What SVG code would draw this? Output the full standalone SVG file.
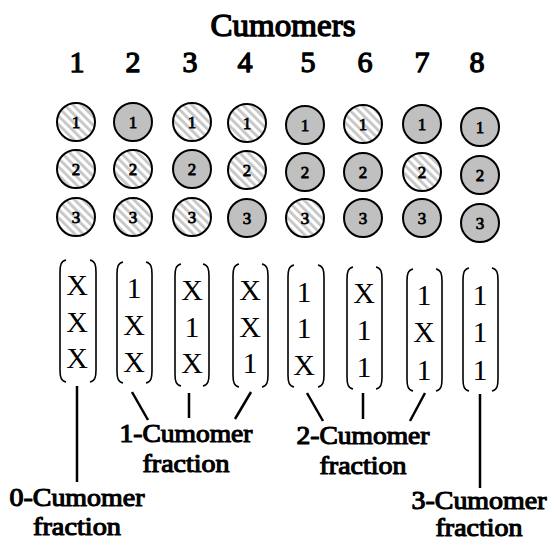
<svg xmlns="http://www.w3.org/2000/svg" width="550" height="542" viewBox="0 0 550 542">
<defs>
<pattern id="hatch" patternUnits="userSpaceOnUse" width="6" height="6" patternTransform="rotate(-45)">
<rect width="6" height="6" fill="#ffffff"/>
<rect width="2.8" height="6" fill="#c6c6c6"/>
</pattern>
</defs>
<style>
text{font-family:'Liberation Serif','Times New Roman',serif;fill:#000;font-weight:normal}
.title{font-size:31px;text-anchor:middle;stroke:#000;stroke-width:1.3;stroke-linejoin:round}
.num{font-size:30px;text-anchor:middle;stroke:#000;stroke-width:1.3;stroke-linejoin:round}
.cl{font-size:17px;text-anchor:middle;stroke:#000;stroke-width:0.8;stroke-linejoin:round}
.v{font-size:30px;text-anchor:middle}
.lab{font-size:25px;text-anchor:middle;stroke:#000;stroke-width:1.1;stroke-linejoin:round}
.h{fill:url(#hatch);stroke:#000;stroke-width:2}
.s{fill:#c0c0c0;stroke:#000;stroke-width:2}
.br{fill:none;stroke:#000;stroke-width:1.6}
.con{stroke:#000;stroke-width:2.5;fill:none}
</style>
<rect width="550" height="542" fill="#fff"/>
<g id="header">
<text class="title" x="283" y="36" textLength="145" lengthAdjust="spacingAndGlyphs">Cumomers</text>
<text class="num" x="77" y="72">1</text>
<text class="num" x="133" y="72">2</text>
<text class="num" x="190" y="72">3</text>
<text class="num" x="245" y="72">4</text>
<text class="num" x="308" y="72">5</text>
<text class="num" x="365" y="72">6</text>
<text class="num" x="422" y="72">7</text>
<text class="num" x="477" y="72">8</text>
</g>
<g id="cumomer1">
<circle class="h" cx="76" cy="122" r="19"/><text class="cl" x="76" y="128">1</text>
<circle class="h" cx="76" cy="169" r="19"/><text class="cl" x="76" y="175">2</text>
<circle class="h" cx="76" cy="217" r="19"/><text class="cl" x="76" y="223">3</text>
<path class="br" d="M66 260 C61 261 60 265 60 272 V370 C60 377 61 381 66 382"/>
<path class="br" d="M90 260 C95 261 96 265 96 272 V370 C96 377 95 381 90 382"/>
<text class="v" x="77" y="295">X</text><text class="v" x="77" y="332">X</text><text class="v" x="77" y="368">X</text>
</g>
<g id="cumomer2">
<circle class="s" cx="133" cy="122" r="19"/><text class="cl" x="133" y="128">1</text>
<circle class="h" cx="133" cy="169" r="19"/><text class="cl" x="133" y="175">2</text>
<circle class="h" cx="133" cy="217" r="19"/><text class="cl" x="133" y="223">3</text>
<path class="br" d="M123 262 C118 263 117 267 117 274 V371 C117 378 118 382 123 383"/>
<path class="br" d="M146 262 C151 263 152 267 152 274 V371 C152 378 151 382 146 383"/>
<text class="v" x="134" y="298">1</text><text class="v" x="134" y="335">X</text><text class="v" x="134" y="372">X</text>
</g>
<g id="cumomer3">
<circle class="h" cx="192" cy="122" r="19"/><text class="cl" x="192" y="128">1</text>
<circle class="s" cx="192" cy="169" r="19"/><text class="cl" x="192" y="175">2</text>
<circle class="h" cx="192" cy="217" r="19"/><text class="cl" x="192" y="223">3</text>
<path class="br" d="M181 264 C176 265 175 269 175 276 V374 C175 381 176 385 181 386"/>
<path class="br" d="M203 264 C208 265 209 269 209 276 V374 C209 381 208 385 203 386"/>
<text class="v" x="192" y="300">X</text><text class="v" x="192" y="337">1</text><text class="v" x="192" y="373">X</text>
</g>
<g id="cumomer4">
<circle class="h" cx="247" cy="123" r="19"/><text class="cl" x="247" y="129">1</text>
<circle class="h" cx="247" cy="170" r="19"/><text class="cl" x="247" y="176">2</text>
<circle class="s" cx="247" cy="218" r="19"/><text class="cl" x="247" y="224">3</text>
<path class="br" d="M239 264 C234 265 233 269 233 276 V375 C233 382 234 386 239 387"/>
<path class="br" d="M262 264 C267 265 268 269 268 276 V375 C268 382 267 386 262 387"/>
<text class="v" x="250" y="300">X</text><text class="v" x="250" y="337">X</text><text class="v" x="250" y="373">1</text>
</g>
<g id="cumomer5">
<circle class="s" cx="305" cy="125" r="19"/><text class="cl" x="305" y="131">1</text>
<circle class="s" cx="305" cy="172" r="19"/><text class="cl" x="305" y="178">2</text>
<circle class="h" cx="305" cy="218" r="19"/><text class="cl" x="305" y="224">3</text>
<path class="br" d="M294 265 C289 266 288 270 288 277 V375 C288 382 289 386 294 387"/>
<path class="br" d="M318 265 C323 266 324 270 324 277 V375 C324 382 323 386 318 387"/>
<text class="v" x="304" y="302">1</text><text class="v" x="304" y="338">1</text><text class="v" x="304" y="375">X</text>
</g>
<g id="cumomer6">
<circle class="h" cx="363" cy="124" r="19"/><text class="cl" x="363" y="130">1</text>
<circle class="s" cx="363" cy="172" r="19"/><text class="cl" x="363" y="178">2</text>
<circle class="s" cx="363" cy="218" r="19"/><text class="cl" x="363" y="224">3</text>
<path class="br" d="M353 267 C348 268 347 272 347 279 V377 C347 384 348 388 353 389"/>
<path class="br" d="M376 267 C381 268 382 272 382 279 V377 C382 384 381 388 376 389"/>
<text class="v" x="364" y="303">X</text><text class="v" x="364" y="340">1</text><text class="v" x="364" y="377">1</text>
</g>
<g id="cumomer7">
<circle class="s" cx="422" cy="124" r="19"/><text class="cl" x="422" y="130">1</text>
<circle class="h" cx="422" cy="172" r="19"/><text class="cl" x="422" y="178">2</text>
<circle class="s" cx="422" cy="218" r="19"/><text class="cl" x="422" y="224">3</text>
<path class="br" d="M413 269 C408 270 407 274 407 281 V379 C407 386 408 390 413 391"/>
<path class="br" d="M436 269 C441 270 442 274 442 281 V379 C442 386 441 390 436 391"/>
<text class="v" x="424" y="305">1</text><text class="v" x="424" y="342">X</text><text class="v" x="424" y="380">1</text>
</g>
<g id="cumomer8">
<circle class="s" cx="480" cy="127" r="19"/><text class="cl" x="480" y="133">1</text>
<circle class="s" cx="480" cy="175" r="19"/><text class="cl" x="480" y="181">2</text>
<circle class="s" cx="480" cy="223" r="19"/><text class="cl" x="480" y="229">3</text>
<path class="br" d="M469 268 C464 269 463 273 463 280 V379 C463 386 464 390 469 391"/>
<path class="br" d="M492 268 C497 269 498 273 498 280 V379 C498 386 497 390 492 391"/>
<text class="v" x="480" y="305">1</text><text class="v" x="480" y="342">1</text><text class="v" x="480" y="380">1</text>
</g>
<g id="connectors">
<line class="con" x1="77" y1="386" x2="77" y2="482"/>
<line class="con" x1="132" y1="392" x2="148" y2="420"/>
<line class="con" x1="189" y1="393" x2="189" y2="418"/>
<line class="con" x1="251" y1="392" x2="235" y2="419"/>
<line class="con" x1="307" y1="393" x2="323" y2="421"/>
<line class="con" x1="363" y1="393" x2="363" y2="419"/>
<line class="con" x1="425" y1="393" x2="410" y2="421"/>
<line class="con" x1="480" y1="394" x2="480" y2="488"/>
</g>
<g id="label0"><text class="lab" x="77" y="506" textLength="135" lengthAdjust="spacingAndGlyphs">0-Cumomer</text><text class="lab" x="77" y="535" textLength="88" lengthAdjust="spacingAndGlyphs">fraction</text></g>
<g id="label1"><text class="lab" x="186" y="442" textLength="133" lengthAdjust="spacingAndGlyphs">1-Cumomer</text><text class="lab" x="186" y="472" textLength="87" lengthAdjust="spacingAndGlyphs">fraction</text></g>
<g id="label2"><text class="lab" x="363" y="444" textLength="133" lengthAdjust="spacingAndGlyphs">2-Cumomer</text><text class="lab" x="363" y="474" textLength="87" lengthAdjust="spacingAndGlyphs">fraction</text></g>
<g id="label3"><text class="lab" x="479" y="509" textLength="135" lengthAdjust="spacingAndGlyphs">3-Cumomer</text><text class="lab" x="479" y="536" textLength="87" lengthAdjust="spacingAndGlyphs">fraction</text></g>
</svg>
